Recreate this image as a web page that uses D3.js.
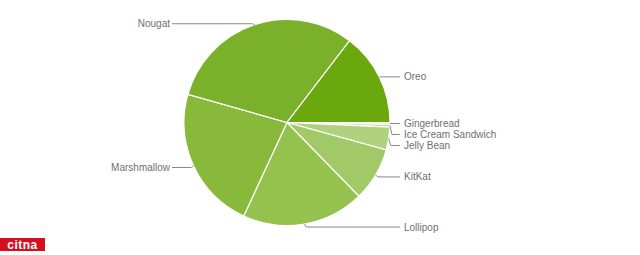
<!DOCTYPE html>
<html>
<head>
<meta charset="utf-8">
<script src="https://cdn.jsdelivr.net/npm/d3@7"></script>
<style>
  body { margin: 0; background: #fff; }
  text { font-family: "Liberation Sans", Arial, sans-serif; }
</style>
</head>
<body>
<div id="chart"></div>
<script>
// Android version share (percent)
const versions = ["Gingerbread", "Ice Cream Sandwich", "Jelly Bean", "KitKat", "Lollipop", "Marshmallow", "Nougat", "Oreo"];
const shares = [0.3, 0.4, 3.6, 8.4, 19.2, 22.5, 31.0, 14.6];
const colors = ["#cde4b0", "#bedb98", "#b0d27f", "#a2c967", "#95c14f", "#88b93b", "#7bb12a", "#6aa80e"];

const width = 640, height = 255;
const cx = 287, cy = 122.5, radius = 103;

const svg = d3.select("#chart")
    .append("svg")
    .attr("width", width)
    .attr("height", height);

const g = svg.append("g")
    .attr("transform", `translate(${cx}, ${cy})`);

const data = versions.map((v, i) => ({ name: v, value: shares[i], color: colors[i] }));

// start at 3 o'clock, go clockwise
const pie = d3.pie()
    .sort(null)
    .value(d => d.value)
    .startAngle(Math.PI / 2)
    .endAngle(Math.PI / 2 + 2 * Math.PI);

const arc = d3.arc()
    .innerRadius(0)
    .outerRadius(radius);

const arcs = pie(data);

g.selectAll("path.slice")
    .data(arcs)
    .enter()
    .append("path")
    .attr("class", "slice")
    .attr("d", arc)
    .attr("fill", d => d.data.color)
    .attr("stroke", "#fff")
    .attr("stroke-width", 1.2);

// label layout: anchor on the rim at mid angle, spread on each side
const labels = arcs.map(d => {
    const a = (d.startAngle + d.endAngle) / 2;
    const x = Math.sin(a) * radius;
    const y = -Math.cos(a) * radius;
    return { d, ex: x, ey: y, right: x > 0, ly: y };
});

const spacing = 11;
["right", "left"].forEach(side => {
    const list = labels.filter(l => (side === "right") === l.right).sort((a, b) => a.ey - b.ey);
    for (let i = 1; i < list.length; i++) {
        if (list[i].ly - list[i - 1].ly < spacing) list[i].ly = list[i - 1].ly + spacing;
    }
});

// small nudge away from the rim like the original
labels.forEach(l => {
    if (Math.abs(l.ex) < 40) l.ly += l.ey > 0 ? 3 : -1;
    else if (l.right && l.ey > 20 && l.ly - l.ey < 4) l.ly += 2;
    else if (!l.right && l.ey > 20) l.ly += 2;
});

const textRightX = 404 - cx, textLeftX = 170 - cx;

g.selectAll("path.leader")
    .data(labels)
    .enter()
    .append("path")
    .attr("class", "leader")
    .attr("fill", "none")
    .attr("stroke", "#888")
    .attr("stroke-width", 1)
    .attr("d", l => {
        const bx = l.ex + (l.right ? 2 : -2);
        const endX = l.right ? textRightX - 4 : textLeftX + 2;
        return `M${l.ex},${l.ey}L${bx},${l.ly}L${endX},${l.ly}`;
    });

g.selectAll("text.label")
    .data(labels)
    .enter()
    .append("text")
    .attr("class", "label")
    .attr("x", l => l.right ? textRightX : textLeftX)
    .attr("y", l => l.ly)
    .attr("dy", "0.35em")
    .attr("text-anchor", l => l.right ? "start" : "end")
    .style("font-size", "10px")
    .style("fill", "#6f6f6f")
    .text(l => l.d.data.name);

// site logo in the corner
const logo = svg.append("g").attr("transform", "translate(0, 238)");
logo.append("rect")
    .attr("width", 45)
    .attr("height", 13)
    .attr("fill", "#d5101e");
logo.append("text")
    .attr("x", 22.5)
    .attr("y", 10.5)
    .attr("text-anchor", "middle")
    .style("font-size", "12px")
    .style("font-weight", "bold")
    .style("fill", "#fff")
    .style("letter-spacing", "0.5px")
    .text("citna");
</script>
</body>
</html>
